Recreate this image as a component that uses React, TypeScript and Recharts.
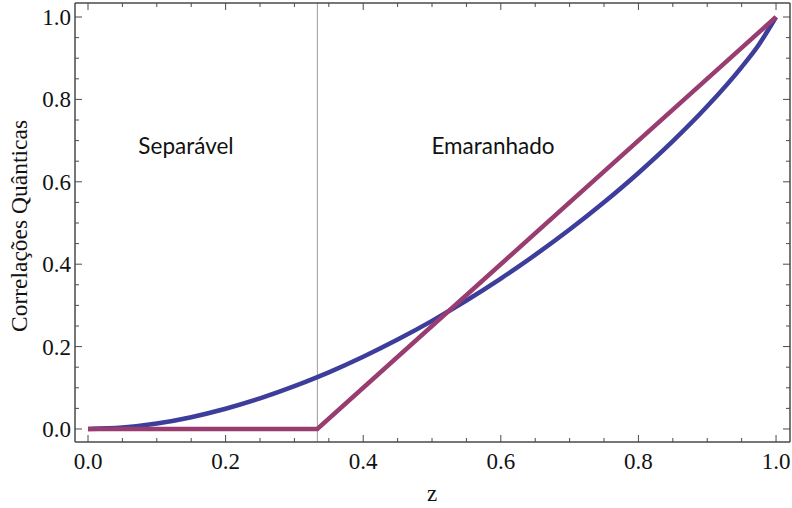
import React from "react";
import { LineChart, Line, XAxis, YAxis, ReferenceLine } from "recharts";

// Quantum discord of the Werner state vs. mixing parameter z
const discordZ = [0, 0.05, 0.1, 0.15, 0.2, 0.25, 0.3, 0.3333, 0.35, 0.4, 0.45, 0.5, 0.55, 0.6, 0.65, 0.7, 0.75, 0.8, 0.85, 0.9, 0.95, 0.975, 1];
const discordValues = [0, 0.0034, 0.0132, 0.0286, 0.049, 0.0742, 0.1038, 0.1258, 0.1375, 0.1753, 0.217, 0.2625, 0.3119, 0.3652, 0.4225, 0.484, 0.5502, 0.6214, 0.6986, 0.7832, 0.8785, 0.9329, 1];

// Entanglement (concurrence): zero in the separable region, linear above z = 1/3
const entZ = [0, 0.3333, 1];
const entValues = [0, 0, 1];

const xTicks = [0, 0.05, 0.1, 0.15, 0.2, 0.25, 0.3, 0.35, 0.4, 0.45, 0.5, 0.55, 0.6, 0.65, 0.7, 0.75, 0.8, 0.85, 0.9, 0.95, 1];
const yTicks = [0, 0.05, 0.1, 0.15, 0.2, 0.25, 0.3, 0.35, 0.4, 0.45, 0.5, 0.55, 0.6, 0.65, 0.7, 0.75, 0.8, 0.85, 0.9, 0.95, 1];

const separableEdge = 1 / 3;

const discordData = discordZ.map((z, i) => ({ z, q: discordValues[i] }));
const entData = entZ.map((z, i) => ({ z, c: entValues[i] }));

const FRAME = "#4a4a4a";
const TICK_FONT = "'Liberation Serif', 'DejaVu Serif', serif";
const NOTE_FONT = "Lato, 'Open Sans', sans-serif";
const MAJOR = 7;
const MINOR = 4;

const isMajor = (v: number) => Math.abs(v * 5 - Math.round(v * 5)) < 1e-6;

const BottomTick = (props: any) => {
  const { x, y, payload } = props;
  const v = payload.value as number;
  const major = isMajor(v);
  return (
    <g>
      <line x1={x} x2={x} y1={y} y2={y - (major ? MAJOR : MINOR)} stroke={FRAME} strokeWidth={1} />
      {major && (
        <text x={x} y={y + 27} textAnchor="middle" fontFamily={TICK_FONT} fontSize={23} fill="#111">
          {v.toFixed(1)}
        </text>
      )}
    </g>
  );
};

const TopTick = (props: any) => {
  const { x, y, payload } = props;
  const major = isMajor(payload.value);
  return <line x1={x} x2={x} y1={y} y2={y + (major ? MAJOR : MINOR)} stroke={FRAME} strokeWidth={1} />;
};

const LeftTick = (props: any) => {
  const { x, y, payload } = props;
  const v = payload.value as number;
  const major = isMajor(v);
  return (
    <g>
      <line x1={x} x2={x + (major ? MAJOR : MINOR)} y1={y} y2={y} stroke={FRAME} strokeWidth={1} />
      {major && (
        <text x={x - 4} y={y + 8} textAnchor="end" fontFamily={TICK_FONT} fontSize={23} fill="#111">
          {v.toFixed(1)}
        </text>
      )}
    </g>
  );
};

const RightTick = (props: any) => {
  const { x, y, payload } = props;
  const major = isMajor(payload.value);
  return <line x1={x} x2={x - (major ? MAJOR : MINOR)} y1={y} y2={y} stroke={FRAME} strokeWidth={1} />;
};

export default function App() {
  return (
    <div style={{ position: "absolute", left: 0, top: 0, width: 792, height: 508, background: "#fff" }}>
      <LineChart width={792} height={508} margin={{ top: 2, right: 0, bottom: 0, left: 0 }}>
        <XAxis
          xAxisId="bottom"
          type="number"
          dataKey="z"
          domain={[-0.0189, 1.0203]}
          allowDataOverflow
          ticks={xTicks}
          interval={0}
          tickSize={0}
          tickMargin={0}
          tickLine={false}
          tick={<BottomTick />}
          height={66}
          axisLine={{ stroke: FRAME, strokeWidth: 1.5 }}
        />
        <XAxis
          xAxisId="top"
          orientation="top"
          type="number"
          dataKey="z"
          domain={[-0.0189, 1.0203]}
          allowDataOverflow
          ticks={xTicks}
          interval={0}
          tickSize={0}
          tickMargin={0}
          tickLine={false}
          tick={<TopTick />}
          height={1}
          axisLine={{ stroke: FRAME, strokeWidth: 1.5 }}
        />
        <YAxis
          yAxisId="left"
          type="number"
          domain={[-0.0316, 1.034]}
          allowDataOverflow
          ticks={yTicks}
          interval={0}
          tickSize={0}
          tickMargin={0}
          tickLine={false}
          tick={<LeftTick />}
          width={75}
          axisLine={{ stroke: FRAME, strokeWidth: 1.5 }}
        />
        <YAxis
          yAxisId="right"
          orientation="right"
          type="number"
          domain={[-0.0316, 1.034]}
          allowDataOverflow
          ticks={yTicks}
          interval={0}
          tickSize={0}
          tickMargin={0}
          tickLine={false}
          tick={<RightTick />}
          width={2}
          axisLine={{ stroke: FRAME, strokeWidth: 1.5 }}
        />
        <ReferenceLine xAxisId="bottom" yAxisId="left" x={separableEdge} stroke="#9a9a9a" strokeWidth={1} />
        <Line
          xAxisId="bottom"
          yAxisId="left"
          data={discordData}
          dataKey="q"
          type="monotone"
          stroke="#3d3d9c"
          strokeWidth={4.5}
          dot={false}
          isAnimationActive={false}
        />
        <Line
          xAxisId="bottom"
          yAxisId="left"
          data={entData}
          dataKey="c"
          type="linear"
          stroke="#993d71"
          strokeWidth={4.5}
          dot={false}
          isAnimationActive={false}
        />
        <text x={186} y={154} textAnchor="middle" fontFamily={NOTE_FONT} fontSize={22.5} fill="#111">
          Separável
        </text>
        <text x={493} y={154} textAnchor="middle" fontFamily={NOTE_FONT} fontSize={22.5} fill="#111">
          Emaranhado
        </text>
        <text
          x={27}
          y={226}
          transform="rotate(-90, 27, 226)"
          textAnchor="middle"
          fontFamily={TICK_FONT}
          fontSize={23.5}
          fill="#111"
        >
          Correlações Quânticas
        </text>
        <text x={432} y={501} textAnchor="middle" fontFamily={TICK_FONT} fontSize={23} fill="#111">
          z
        </text>
      </LineChart>
    </div>
  );
}
